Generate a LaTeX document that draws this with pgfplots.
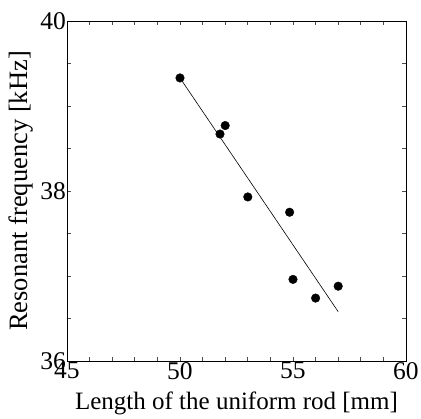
\documentclass[border=0pt]{standalone}
\usepackage{fontspec}
\setmainfont{Liberation Serif}
\usepackage{pgfplots}
\pgfplotsset{compat=1.18}
\begin{document}
\begin{tikzpicture}
\begin{axis}[
  name=ax,
  scale only axis,
  width=339pt, height=340pt,
  xmin=45, xmax=60, ymin=36, ymax=40,
  xtick={45,50,55,60}, ytick={36,38,40},
  minor xtick={46,47,48,49,51,52,53,54,56,57,58,59},
  minor ytick={36.5,37,37.5,38.5,39,39.5},
  tick align=inside,
  major tick length=4pt, minor tick length=4pt,
  every tick/.style={black!70, line width=0.6pt},
  axis line style={line width=0.8pt},
  /pgf/number format/assume math mode=true,
  ticklabel style={font=\fontsize{25.5}{28}\selectfont},
  xticklabel style={inner sep=1pt, anchor=north},
  yticklabel style={inner sep=1pt, anchor=east},
  xlabel={Length of the uniform rod [mm]},
  ylabel={Resonant frequency [kHz]},
  xlabel style={font=\fontsize{25}{28}\selectfont, inner sep=0pt, at={(axis description cs:0.5,-0.091)}, anchor=north},
  ylabel style={font=\fontsize{26.5}{29}\selectfont, inner sep=0pt, at={(axis description cs:-0.1003,0.5)}, anchor=south},
]
\addplot[only marks, mark=*, mark size=4.3pt, black] coordinates {
  (50.0,39.33) (51.77,38.67) (52.0,38.77) (53.0,37.93)
  (54.85,37.75) (55.0,36.96) (56.0,36.74) (57.0,36.88)
};
\addplot[black, line width=0.6pt, no marks] coordinates {
  (50.05,39.31) (57.0,36.58)
};
\end{axis}
\path ([shift={(-67pt,-58pt)}]ax.south west) rectangle ([shift={(15pt,21pt)}]ax.north east);
\end{tikzpicture}
\end{document}
